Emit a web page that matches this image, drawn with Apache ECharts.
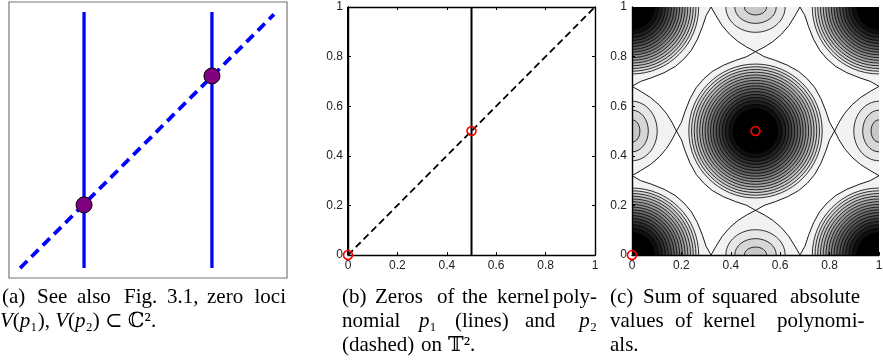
<!DOCTYPE html>
<html>
<head>
<meta charset="utf-8">
<script src="https://cdn.jsdelivr.net/npm/echarts@6/dist/echarts.min.js"></script>
<style>
html, body { margin: 0; padding: 0; background: #fff; }
#chart { width: 883px; height: 364px; }
</style>
</head>
<body>
<div id="chart"></div>
<script>
// (a) zero loci in C^2, schematic
var lociX = [0.27, 0.73];
var lociY = [0.036, 0.964];
var diagA = [[0.04, 0.036], [0.953, 0.955]];
var crossA = [[0.27, 0.265], [0.73, 0.732]];

// (b) zeros on the torus
var p1Lines = [0, 0.5];
var p2Line = [[0, 0], [1, 1]];
var zeros = [[0, 0], [0.5, 0.5]];

// (c) contour plot
var deepWells = [[0, 0], [1, 0], [0, 1], [1, 1], [0.5, 0.5]];
var deepRings = [0.27, 0.259, 0.248, 0.237, 0.226, 0.215, 0.204, 0.193, 0.182, 0.171,
                 0.159, 0.147, 0.135, 0.122, 0.107, 0.09, 0.07, 0.045];
var edgeWellsH = [[0.5, 0], [0.5, 1]];
var edgeWellsV = [[0, 0.5], [1, 0.5]];
var edgeRingsLong = [0.12, 0.084, 0.045];
var edgeRingsShort = [0.102, 0.066, 0.032];
// white plateau, top-left one (the other three are its mirror images)
var plateauTL = [
  [0.32, 1], [0.34, 0.965], [0.365, 0.925], [0.395, 0.89], [0.43, 0.86], [0.465, 0.838],
  [0.5, 0.82], [0.465, 0.8], [0.42, 0.785], [0.37, 0.765], [0.325, 0.74], [0.29, 0.71],
  [0.26, 0.675], [0.235, 0.63], [0.215, 0.58], [0.2, 0.535],
  [0.18, 0.5], [0.162, 0.535], [0.14, 0.57], [0.11, 0.605], [0.075, 0.635], [0.035, 0.66],
  [0, 0.68], [0.035, 0.7], [0.08, 0.715], [0.13, 0.735], [0.175, 0.76], [0.21, 0.79],
  [0.24, 0.825], [0.265, 0.87], [0.285, 0.92], [0.3, 0.965]
];

var plateaus = [
  plateauTL,
  plateauTL.map(function (p) { return [1 - p[0], p[1]]; }),
  plateauTL.map(function (p) { return [p[0], 1 - p[1]]; }),
  plateauTL.map(function (p) { return [1 - p[0], 1 - p[1]]; })
];

var ringData = [];
deepWells.forEach(function (c) {
  deepRings.forEach(function (r, k) { ringData.push([c[0], c[1], r, r, k]); });
});
edgeWellsH.forEach(function (c) {
  edgeRingsLong.forEach(function (r, k) { ringData.push([c[0], c[1], r, edgeRingsShort[k], k]); });
});
edgeWellsV.forEach(function (c) {
  edgeRingsLong.forEach(function (r, k) { ringData.push([c[0], c[1], edgeRingsShort[k], r, k]); });
});

function grayOf(k) {
  var v = Math.round(255 * Math.max(0, 0.9 - 0.06 * k));
  return 'rgb(' + v + ',' + v + ',' + v + ')';
}

var tickFont = { color: '#222', fontSize: 12, fontFamily: 'Liberation Sans, Arial, sans-serif' };

function boxAxis(grid, pos, labels, z) {
  return {
    gridIndex: grid, type: 'value', min: 0, max: 1, interval: 0.2, position: pos, z: z || 0,
    axisLine: { show: true, onZero: false, lineStyle: { color: '#000', width: 1.4 } },
    axisTick: { show: true, inside: true, length: 3, lineStyle: { color: '#000', width: 1 } },
    axisLabel: labels ? Object.assign({ show: true, margin: 5 }, tickFont) : { show: false },
    splitLine: { show: false }
  };
}
function hiddenAxis(grid) {
  return { gridIndex: grid, type: 'value', min: 0, max: 1, show: false, splitLine: { show: false } };
}

// captions (justified lines: each word at its place, line ends flush right)
var capFamily = '"Liberation Serif", "DejaVu Serif", serif';
var capSize = 21;
var rich = {
  i: { fontStyle: 'italic', fontSize: capSize, fontFamily: capFamily, fill: '#000' },
  n: { fontSize: capSize, fontFamily: capFamily, fill: '#000' }
};
var L1 = 297, L2 = 321, L3 = 345;
var captionWords = [
  [2, L1, '(a)', 'left'], [37, L1, 'See', 'left'], [77, L1, 'also', 'left'],
  [124, L1, 'Fig.', 'left'], [167, L1, '3.1,', 'left'], [207, L1, 'zero', 'left'],
  [286, L1, 'loci', 'right'],
  [0, L2, '{i|V}{n|(}{i|p}{n|₁), }{i|V}{n|(}{i|p}{n|₂) ⊂ ℂ².}', 'left'],
  [342, L1, '(b)', 'left'], [375, L1, 'Zeros', 'left'], [437, L1, 'of', 'left'],
  [462, L1, 'the', 'left'], [497, L1, 'kernel', 'left'], [597, L1, 'poly-', 'right'],
  [342, L2, 'nomial', 'left'], [419, L2, '{i|p}{n|₁}', 'left'], [455, L2, '(lines)', 'left'],
  [525, L2, 'and', 'left'], [597, L2, '{i|p}{n|₂}', 'right'],
  [342, L3, '(dashed)', 'left'], [421, L3, 'on', 'left'], [448, L3, '𝕋².', 'left'],
  [610, L1, '(c)', 'left'], [643, L1, 'Sum', 'left'], [687, L1, 'of', 'left'],
  [712, L1, 'squared', 'left'], [790, L1, 'absolute', 'left'],
  [610, L2, 'values', 'left'], [675, L2, 'of', 'left'], [703, L2, 'kernel', 'left'],
  [777, L2, 'polynomi-', 'left'],
  [610, L3, 'als.', 'left']
];

var chart = echarts.init(document.getElementById('chart'), null, { renderer: 'canvas' });
chart.setOption({
  animation: false,
  backgroundColor: '#fff',
  grid: [
    { left: 9, top: 2, width: 278, height: 276, show: true, borderColor: '#777', borderWidth: 1.2, outerBoundsMode: 'none' },
    { left: 348, top: 7, width: 247, height: 248, outerBoundsMode: 'none' },
    { left: 632, top: 7, width: 247, height: 248, show: true, backgroundColor: '#f2f2f2', borderWidth: 0, outerBoundsMode: 'none' }
  ],
  xAxis: [
    hiddenAxis(0),
    boxAxis(1, 'bottom', true),
    boxAxis(1, 'top', false),
    boxAxis(2, 'bottom', true, 10)
  ],
  yAxis: [
    hiddenAxis(0),
    boxAxis(1, 'left', true),
    boxAxis(1, 'right', false),
    boxAxis(2, 'left', true, 10)
  ],
  graphic: {
    elements: captionWords.map(function (w) {
      return {
        type: 'text', x: w[0], y: w[1], silent: true,
        style: {
          text: w[2], rich: rich, fontSize: capSize, fontFamily: capFamily, fill: '#000',
          align: w[3], textAlign: w[3], verticalAlign: 'middle', textVerticalAlign: 'middle'
        }
      };
    })
  },
  series: [
    // panel (a)
    {
      type: 'line', xAxisIndex: 0, yAxisIndex: 0, showSymbol: false, silent: true, z: 2,
      data: [[lociX[0], lociY[0]], [lociX[0], lociY[1]], null, [lociX[1], lociY[0]], [lociX[1], lociY[1]]],
      connectNulls: false,
      lineStyle: { color: '#0000ff', width: 3.3 }
    },
    {
      type: 'line', xAxisIndex: 0, yAxisIndex: 0, showSymbol: false, silent: true, z: 3,
      data: diagA,
      lineStyle: { color: '#0000ff', width: 3.8, type: [10, 6] }
    },
    {
      type: 'scatter', xAxisIndex: 0, yAxisIndex: 0, silent: true, z: 4,
      data: crossA, symbol: 'circle', symbolSize: 16,
      itemStyle: { color: '#800080', borderColor: '#000', borderWidth: 1, opacity: 1 }
    },
    // panel (b)
    {
      type: 'line', xAxisIndex: 1, yAxisIndex: 1, showSymbol: false, silent: true, z: 2,
      data: [[p1Lines[0], 0], [p1Lines[0], 1], null, [p1Lines[1], 0], [p1Lines[1], 1]],
      lineStyle: { color: '#000', width: 2 }
    },
    {
      type: 'line', xAxisIndex: 1, yAxisIndex: 1, showSymbol: false, silent: true, z: 2,
      data: p2Line,
      lineStyle: { color: '#000', width: 1.8, type: [7, 4] }
    },
    {
      type: 'scatter', xAxisIndex: 1, yAxisIndex: 1, silent: true, z: 5,
      data: zeros, symbol: 'circle', symbolSize: 9,
      itemStyle: { color: 'rgba(0,0,0,0)', borderColor: '#ff0000', borderWidth: 1.6, opacity: 1 }
    },
    // panel (c)
    {
      type: 'custom', xAxisIndex: 3, yAxisIndex: 3, clip: true, silent: true, z: 2,
      encode: { x: 0, y: 1 },
      data: plateaus.map(function (p, i) { return [p[0][0], p[0][1], i]; }),
      renderItem: function (params, api) {
        var pts = plateaus[params.dataIndex].map(function (p) { return api.coord(p); });
        return { type: 'polygon', shape: { points: pts }, style: { fill: '#fff', stroke: '#000', lineWidth: 0.9 } };
      }
    },
    {
      type: 'custom', xAxisIndex: 3, yAxisIndex: 3, clip: true, silent: true, z: 3,
      encode: { x: 0, y: 1 },
      data: ringData,
      renderItem: function (params, api) {
        var c = api.coord([api.value(0), api.value(1)]);
        var s = api.size([api.value(2), api.value(3)]);
        return {
          type: 'ellipse',
          shape: { cx: c[0], cy: c[1], rx: s[0], ry: s[1] },
          style: { fill: grayOf(api.value(4)), stroke: '#000', lineWidth: 0.8 }
        };
      }
    },
    {
      type: 'scatter', xAxisIndex: 3, yAxisIndex: 3, silent: true, z: 20,
      data: zeros, symbol: 'circle', symbolSize: 9,
      itemStyle: { color: 'rgba(0,0,0,0)', borderColor: '#ff0000', borderWidth: 1.6, opacity: 1 }
    }
  ]
});
</script>
</body>
</html>
